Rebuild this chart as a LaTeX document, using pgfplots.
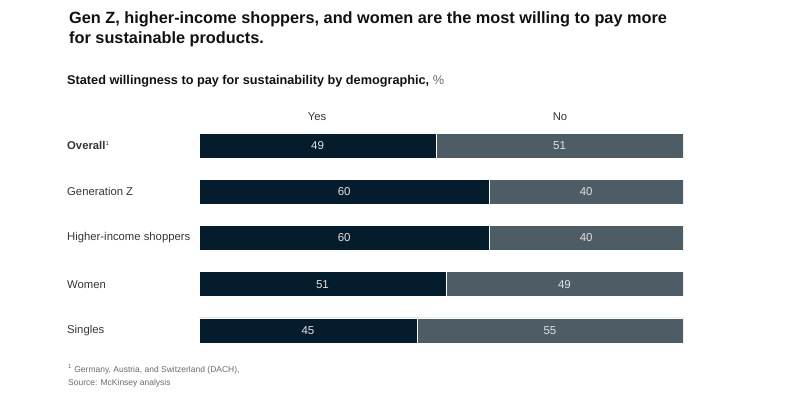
\documentclass[border=0pt]{standalone}
\usepackage{pgfplots}
\pgfplotsset{compat=1.18}
\usepackage{pgfplotstable}
\usepackage{fontspec}
\setmainfont{Liberation Sans}
\definecolor{navy}{HTML}{051C2C}
\definecolor{slate}{HTML}{4E5D65}
\definecolor{txt}{HTML}{111111}
\definecolor{foot}{HTML}{6A6A6A}

\pgfplotstableread{
pos yes no
0 45 55
1 51 49
2 60 40
3 60 40
4 49 51
}\datatable

\pgfplotstableread{
cx pos lab
22.5 0 45
72.5 0 55
25.5 1 51
75.5 1 49
30 2 60
80 2 40
30 3 60
80 3 40
24.5 4 49
74.5 4 51
}\labtable

\pgfplotsset{myaxis/.style={scale only axis, width=484bp, height=210bp,
  xmin=0, xmax=100, ymin=-0.271, ymax=4.271, at={(199bp,54bp)}, anchor=south west,
  axis line style={draw=none}, xtick=\empty, major tick length=0pt}}

\begin{document}
\begin{tikzpicture}[x=1bp,y=1bp]
\path[use as bounding box] (0,0) rectangle (800,397);
\node[anchor=base west, inner sep=0, font=\fontsize{16.3bp}{20bp}\selectfont\bfseries, text=txt] at (69,397-23) {Gen Z, higher-income shoppers, and women are the most willing to pay more};
\node[anchor=base west, inner sep=0, font=\fontsize{16.3bp}{20bp}\selectfont\bfseries, text=txt] at (69,397-43) {for sustainable products.};
\node[anchor=base west, inner sep=0, font=\fontsize{12.7bp}{15bp}\selectfont\bfseries, text=txt] at (67,397-84) {Stated willingness to pay for sustainability by demographic, \textmd{\color{foot}\%}};
\node[anchor=base, inner sep=0, font=\fontsize{11.3bp}{13bp}\selectfont, text=txt!85] at (317,397-120) {Yes};
\node[anchor=base, inner sep=0, font=\fontsize{11.3bp}{13bp}\selectfont, text=txt!85] at (560,397-120) {No};
\node[anchor=base west, inner sep=0, font=\fontsize{8.5bp}{10bp}\selectfont, text=foot] at (68,397-372) {\textsuperscript{1} Germany, Austria, and Switzerland (DACH),};
\node[anchor=base west, inner sep=0, font=\fontsize{8.5bp}{10bp}\selectfont, text=foot] at (68,397-385) {Source: McKinsey analysis};

\begin{axis}[myaxis, xbar stacked, bar width=25bp,
  ytick={0,1,2,3,4},
  yticklabels={Singles, Women, Higher-income shoppers, Generation Z, {\bfseries Overall\textsuperscript{\mdseries\fontsize{6bp}{7bp}\selectfont 1}}},
  yticklabel style={anchor=west, inner xsep=0pt, xshift=-132bp, font=\fontsize{11.3bp}{13bp}\selectfont, text=txt!85}]
\addplot[fill=navy, draw=white, line width=0.5bp] table[x=yes, y=pos] {\datatable};
\addplot[fill=slate, draw=white, line width=0.5bp] table[x=no, y=pos] {\datatable};
\end{axis}
\begin{axis}[myaxis, ytick=\empty]
\addplot[draw=none, mark=none, nodes near coords, point meta=explicit symbolic,
  every node near coord/.style={anchor=center, text=white!88!black, font=\fontsize{11.5bp}{13bp}\selectfont}]
  table[x=cx, y=pos, meta=lab] {\labtable};
\end{axis}
\end{tikzpicture}
\end{document}
